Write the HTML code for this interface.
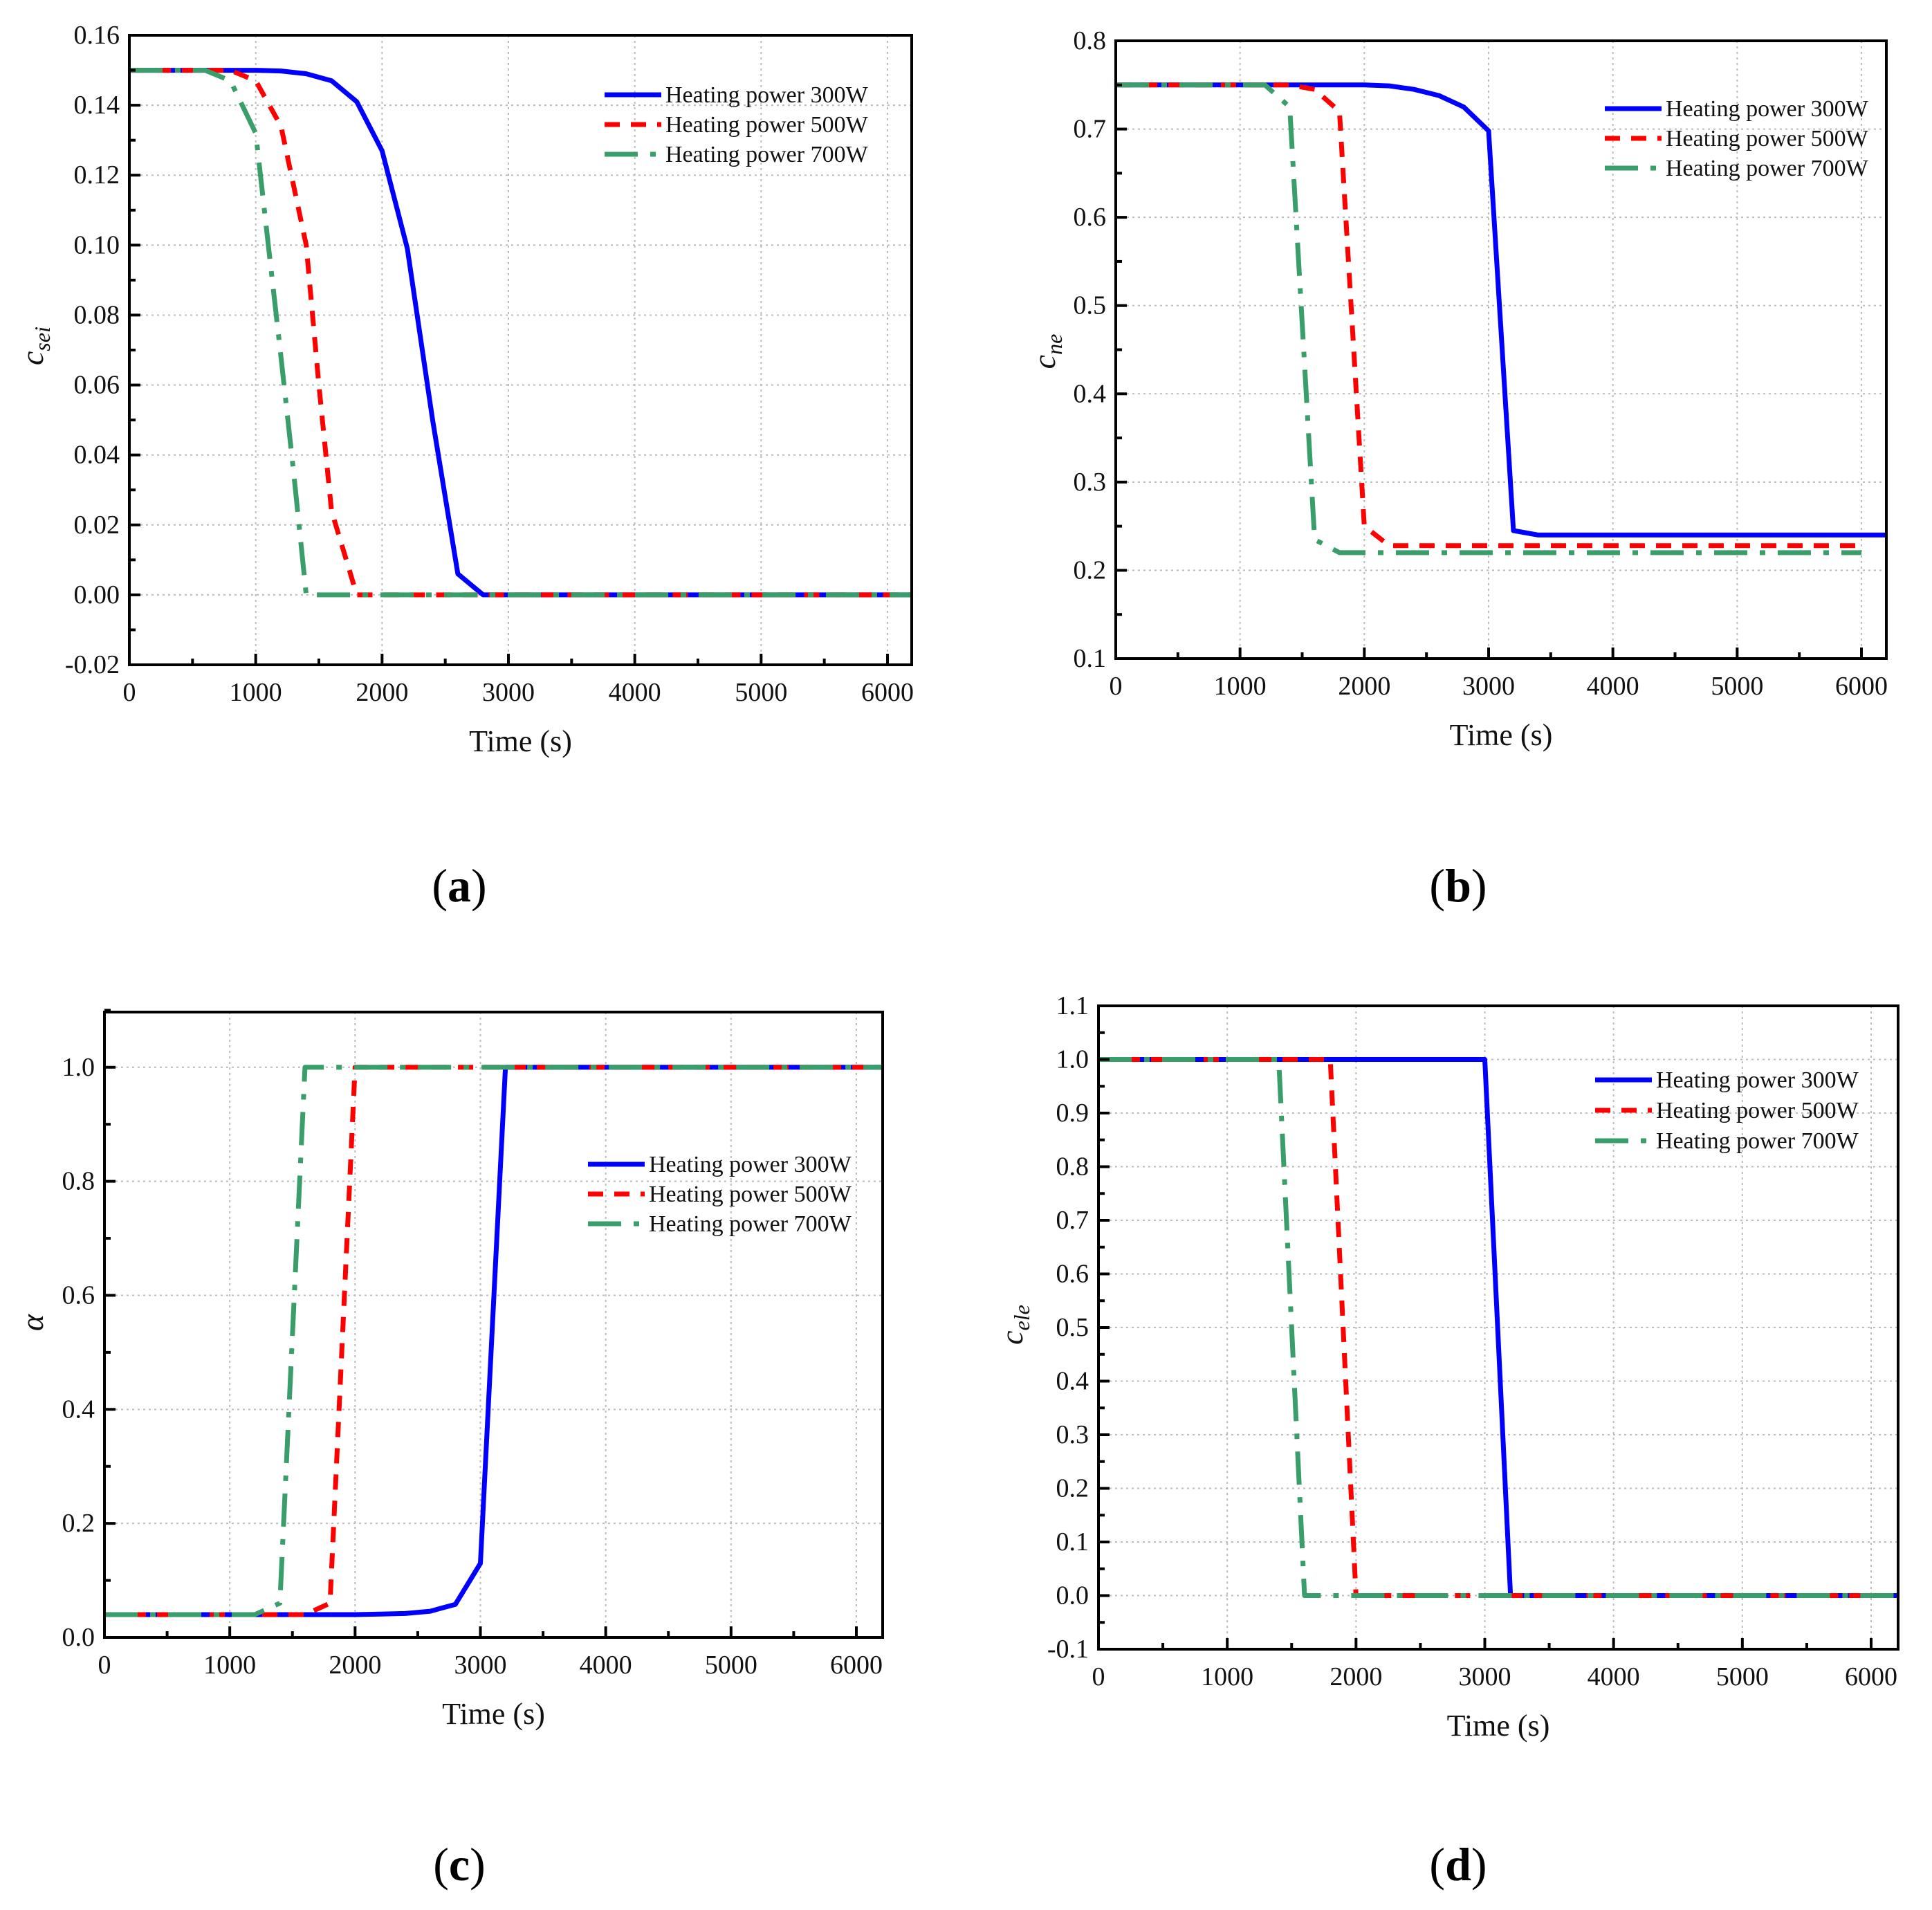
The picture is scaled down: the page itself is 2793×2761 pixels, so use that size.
<!DOCTYPE html>
<html><head><meta charset="utf-8">
<style>
html,body{margin:0;padding:0;background:#fff;}
svg{display:block;font-family:"Liberation Serif",serif;}
</style></head>
<body>
<svg id="fig" width="2793" height="2761" viewBox="0 0 2793 2761" xmlns="http://www.w3.org/2000/svg">
<rect width="2793" height="2761" fill="#fff"/>
</svg>
<script>
// ---- data ----
const seriesNames = ["Heating power 300W","Heating power 500W","Heating power 700W"];
// (a) c_sei
const aT300 = [0,1000,1200,1400,1600,1800,2000,2200,2400,2600,2800,6200];
const aV300 = [0.15,0.15,0.1498,0.149,0.147,0.141,0.127,0.099,0.05,0.006,0,0];
const aT500 = [0,800,1000,1200,1400,1500,1600,1800,6200];
const aV500 = [0.15,0.15,0.147,0.134,0.1,0.06,0.024,0,0];
const aT700 = [0,600,800,1000,1100,1200,1300,1400,6200];
const aV700 = [0.15,0.15,0.147,0.132,0.1,0.068,0.035,0,0];
// (b) c_ne
const bT300 = [0,2000,2200,2400,2600,2800,3000,3200,3400,6200];
const bV300 = [0.75,0.75,0.749,0.745,0.738,0.725,0.698,0.245,0.24,0.24];
const bT500 = [0,1400,1600,1800,2000,2200,6000];
const bV500 = [0.75,0.75,0.745,0.72,0.25,0.228,0.228];
const bT700 = [0,1200,1400,1600,1800,6000];
const bV700 = [0.75,0.75,0.725,0.235,0.22,0.22];
// (c) alpha
const cT300 = [0,2000,2200,2400,2600,2800,3000,3200,6200];
const cV300 = [0.04,0.04,0.041,0.042,0.046,0.058,0.13,1.0,1.0];
const cT500 = [0,1600,1800,2000,6200];
const cV500 = [0.04,0.04,0.06,1.0,1.0];
const cT700 = [0,1200,1400,1600,6200];
const cV700 = [0.04,0.04,0.06,1.0,1.0];
// (d) c_ele
const dT300 = [0,3000,3200,6200];
const dV300 = [1,1,0,0];
const dT500 = [0,1800,2000,6200];
const dV500 = [1,1,0,0];
const dT700 = [0,1400,1600,6200];
const dV700 = [1,1,0,0];
// ticks
const xTicks = [0,1000,2000,3000,4000,5000,6000];
const aYTicks = ["-0.02","0.00","0.02","0.04","0.06","0.08","0.10","0.12","0.14","0.16"];
const bYTicks = ["0.1","0.2","0.3","0.4","0.5","0.6","0.7","0.8"];
const cYTicks = ["0.0","0.2","0.4","0.6","0.8","1.0"];
const dYTicks = ["-0.1","0.0","0.1","0.2","0.3","0.4","0.5","0.6","0.7","0.8","0.9","1.0","1.1"];

const NS="http://www.w3.org/2000/svg";
const svg=document.getElementById('fig');
function mk(tag,attrs,parent){const e=document.createElementNS(NS,tag);for(const k in attrs)e.setAttribute(k,attrs[k]);(parent||svg).appendChild(e);return e;}

const styles=[
 {color:"#0000ff",dash:""},
 {color:"#ff0000",dash:"22 16"},
 {color:"#3a9e6a",dash:"48 18 8 18"}
];

function panel(cfg){
  const g=mk('g',{});
  
  
  const {L,R,T,B,x0px,x6000px,yTopVal,yBotVal}=cfg;
  const xs=t=>x0px+(t/6000)*(x6000px-x0px);
  const ys=v=>B-(v-yBotVal)/(yTopVal-yBotVal)*(B-T);
  xTicks.forEach(t=>{const gl=mk('line',{x1:xs(t),x2:xs(t),y1:T,y2:B,stroke:"#bbb","stroke-width":2,"stroke-dasharray":"3 5"},g);
    });
  cfg.yTicks.forEach(s=>{const v=parseFloat(s);const gl=mk('line',{x1:L,x2:R,y1:ys(v),y2:ys(v),stroke:"#bbb","stroke-width":2,"stroke-dasharray":"3 5"},g);
    });
  const cid='clip'+cfg.id;
  const cp=mk('clipPath',{id:cid},g);mk('rect',{x:L,y:T-10,width:R-L,height:B-T+10},cp);
  cfg.series.forEach((s,i)=>{
    const pts=s.t.map((t,j)=>xs(t).toFixed(1)+","+ys(s.v[j]).toFixed(1)).join(" ");
    const pl=mk('polyline',{points:pts,fill:"none",stroke:styles[i].color,"stroke-width":7,"stroke-linejoin":"round","stroke-dasharray":styles[i].dash,"clip-path":"url(#"+cid+")"},g);
    
    
  });
  const fr=mk('rect',{x:L,y:T,width:R-L,height:B-T,fill:"none",stroke:"#000","stroke-width":4},g);
  
  for(let t=0;t<=6000;t+=500){const major=t%1000===0;mk('line',{x1:xs(t),x2:xs(t),y1:B,y2:B-(major?16:9),stroke:"#000","stroke-width":4},g);}
  xTicks.forEach(t=>{const tx=mk('text',{x:xs(t),y:B+52,"font-size":38,"text-anchor":"middle",fill:"#111"},g);tx.textContent=t;
    });
  const yv=cfg.yTicks.map(parseFloat);const step=yv[1]-yv[0];
  for(let k=0;k<yv.length;k++){mk('line',{x1:L,x2:L+16,y1:ys(yv[k]),y2:ys(yv[k]),stroke:"#000","stroke-width":4},g);
    if(k<yv.length-1){const m=yv[k]+step/2;mk('line',{x1:L,x2:L+9,y1:ys(m),y2:ys(m),stroke:"#000","stroke-width":4},g);}}
  if(cfg.extraTop){const m=yv[yv.length-1]+step/2;mk('line',{x1:L,x2:L+9,y1:ys(m),y2:ys(m),stroke:"#000","stroke-width":4},g);}
  cfg.yTicks.forEach(s=>{const tx=mk('text',{x:L-14,y:ys(parseFloat(s))+12,"font-size":38,"text-anchor":"end",fill:"#111"},g);tx.textContent=s;
    });
  const xt=mk('text',{x:(L+R)/2,y:B+125,"font-size":44,"text-anchor":"middle",fill:"#111"},g);xt.textContent="Time (s)";
  
  const yt=mk('text',{x:0,y:0,"font-size":46,"font-style":"italic","text-anchor":"middle",fill:"#111",transform:`translate(${cfg.ylx},${cfg.yly}) rotate(-90)`},g);
  
  yt.appendChild(document.createTextNode(cfg.ylab[0]));
  if(cfg.ylab[1]){const ts=mk('tspan',{"font-size":32,dy:10},yt);ts.textContent=cfg.ylab[1];}
  const lg=mk('g',{},g);
  seriesNames.forEach((n,i)=>{const y=cfg.legY+i*cfg.legDy;
    const e=mk('g',{},lg);
    mk('line',{x1:cfg.legX,x2:cfg.legX+82,y1:y,y2:y,stroke:styles[i].color,"stroke-width":7,"stroke-dasharray":i==1?"22 16":(i==2?"48 18 8 18":"")},e);
    const tx=mk('text',{x:cfg.legX+88,y:y+11,"font-size":34,fill:"#111"},e);tx.textContent=n;});
  const pl=mk('text',{x:cfg.labX,y:cfg.labY,"font-size":68,"text-anchor":"middle",fill:"#000"},svg);
  
  pl.appendChild(document.createTextNode("("));
  const b=mk('tspan',{"font-weight":"bold"},pl);b.textContent=cfg.lab;
  pl.appendChild(document.createTextNode(")"));
}

panel({id:'a',name:'chart-a-csei',L:187,R:1318,T:51,B:961,x0px:187,x6000px:1283,yTopVal:0.16,yBotVal:-0.02,yTicks:aYTicks,
  series:[{t:aT300,v:aV300},{t:aT500,v:aV500},{t:aT700,v:aV700}],ylab:["c","sei"],ylx:62,yly:500,
  legX:874,legY:137,legDy:43,labX:664,labY:1303,lab:"a"});
panel({id:'b',name:'chart-b-cne',L:1613,R:2727,T:59,B:952,x0px:1613,x6000px:2691,yTopVal:0.8,yBotVal:0.1,yTicks:bYTicks,
  series:[{t:bT300,v:bV300},{t:bT500,v:bV500},{t:bT700,v:bV700}],ylab:["c","ne"],ylx:1525,yly:508,
  legX:2320,legY:157,legDy:43,labX:2108,labY:1303,lab:"b"});
panel({id:'c',name:'chart-c-alpha',L:151,R:1276,T:1463,B:2367,x0px:151,x6000px:1238,yTopVal:1.0968,yBotVal:0.0,yTicks:cYTicks,extraTop:true,
  series:[{t:cT300,v:cV300},{t:cT500,v:cV500},{t:cT700,v:cV700}],ylab:["α",""],ylx:62,yly:1912,
  legX:850,legY:1683,legDy:43,labX:664,labY:2718,lab:"c"});
panel({id:'d',name:'chart-d-cele',L:1588,R:2744,T:1454,B:2384,x0px:1588,x6000px:2705,yTopVal:1.1,yBotVal:-0.1,yTicks:dYTicks,
  series:[{t:dT300,v:dV300},{t:dT500,v:dV500},{t:dT700,v:dV700}],ylab:["c","ele"],ylx:1478,yly:1915,
  legX:2306,legY:1561,legDy:44,labX:2108,labY:2718,lab:"d"});
</script>
</body></html>
